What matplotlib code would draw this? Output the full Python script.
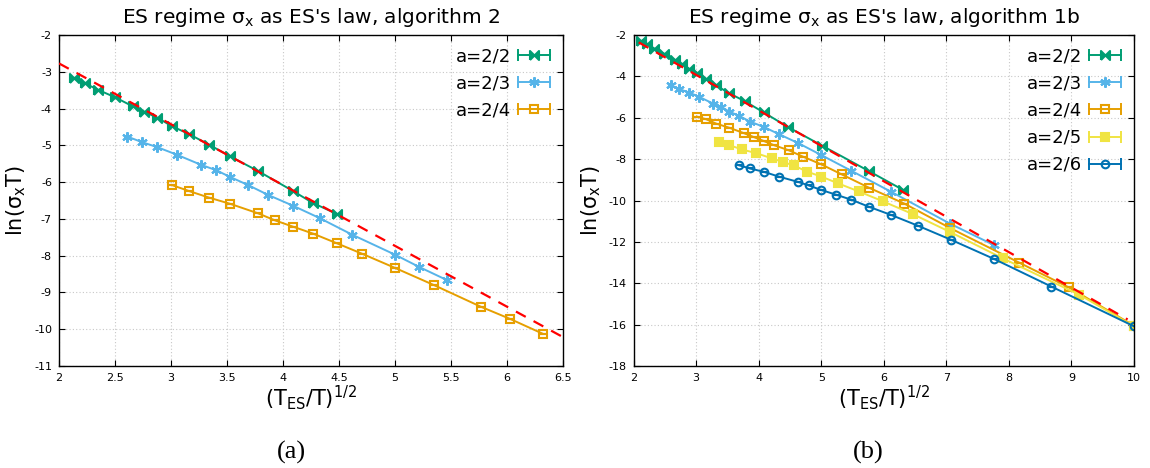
import numpy as np
import matplotlib
matplotlib.use("Agg")
import matplotlib.pyplot as plt
from matplotlib.lines import Line2D
from matplotlib.legend_handler import HandlerLine2D

plt.rcParams['font.family'] = ['DejaVu Sans']
plt.rcParams['axes.unicode_minus'] = False

# ---------------- panel (a): algorithm 2 ----------------
a_x_22 = [2.13, 2.23, 2.35, 2.50, 2.66, 2.76, 2.88, 3.01, 3.16, 3.34, 3.53, 3.78, 4.09, 4.27, 4.48]
a_y_22 = [-3.18, -3.31, -3.49, -3.69, -3.94, -4.08, -4.25, -4.48, -4.69, -4.98, -5.30, -5.70, -6.24, -6.57, -6.86]
a_x_23 = [2.61, 2.74, 2.88, 3.05, 3.27, 3.40, 3.53, 3.69, 3.87, 4.09, 4.33, 4.62, 5.00, 5.22, 5.47]
a_y_23 = [-4.76, -4.91, -5.05, -5.25, -5.53, -5.67, -5.86, -6.08, -6.35, -6.64, -6.98, -7.43, -7.97, -8.31, -8.67]
a_x_24 = [3.01, 3.16, 3.34, 3.53, 3.78, 3.93, 4.09, 4.27, 4.48, 4.71, 5.00, 5.35, 5.77, 6.03, 6.32]
a_y_24 = [-6.08, -6.24, -6.42, -6.59, -6.85, -7.04, -7.21, -7.40, -7.66, -7.95, -8.33, -8.80, -9.39, -9.72, -10.12]
a_fit_x = [2.0, 6.5]
a_fit_y = [-2.77, -10.21]

# ---------------- panel (b): algorithm 1b ----------------
b_x_22 = [2.12, 2.22, 2.33, 2.48, 2.66, 2.77, 2.88, 3.01, 3.15, 3.32, 3.52, 3.78, 4.08, 4.47, 5.01, 5.77, 6.31]
b_y_22 = [-2.28, -2.44, -2.65, -2.89, -3.21, -3.41, -3.62, -3.83, -4.10, -4.43, -4.80, -5.20, -5.74, -6.45, -7.34, -8.59, -9.49]
b_x_23 = [2.59, 2.73, 2.89, 3.05, 3.27, 3.40, 3.53, 3.69, 3.86, 4.08, 4.33, 4.63, 5.00, 5.48, 6.12, 7.06, 7.76]
b_y_23 = [-4.42, -4.61, -4.78, -4.99, -5.31, -5.47, -5.70, -5.91, -6.18, -6.44, -6.80, -7.22, -7.80, -8.56, -9.58, -11.12, -12.15]
b_x_24 = [3.01, 3.16, 3.32, 3.53, 3.77, 3.92, 4.08, 4.25, 4.48, 4.71, 5.00, 5.33, 5.77, 6.33, 7.06, 8.17, 8.96, 10.0]
b_y_24 = [-5.94, -6.07, -6.28, -6.48, -6.75, -6.93, -7.12, -7.33, -7.57, -7.88, -8.25, -8.74, -9.39, -10.15, -11.33, -13.01, -14.20, -16.05]
b_x_25 = [3.37, 3.53, 3.73, 3.95, 4.21, 4.39, 4.56, 4.77, 5.00, 5.27, 5.60, 5.98, 6.46, 7.06, 7.90, 9.13, 10.0]
b_y_25 = [-7.16, -7.32, -7.53, -7.70, -7.96, -8.14, -8.30, -8.60, -8.84, -9.17, -9.56, -10.03, -10.65, -11.52, -12.79, -14.56, -16.08]
b_x_26 = [3.69, 3.86, 4.08, 4.33, 4.63, 4.80, 5.00, 5.23, 5.48, 5.77, 6.12, 6.54, 7.07, 7.76, 8.68, 10.0]
b_y_26 = [-8.30, -8.45, -8.61, -8.85, -9.10, -9.27, -9.49, -9.71, -9.96, -10.31, -10.70, -11.21, -11.89, -12.82, -14.16, -16.08]
b_fit_x = [2.08, 9.9]
b_fit_y = [-2.35, -15.75]

labels = ["a=2/2", "a=2/3", "a=2/4", "a=2/5", "a=2/6"]
colors = ["#009e73", "#56b4e9", "#e69f00", "#f0e442", "#0072b2"]
bowtie = [(-1, -1), (1, 1), (1, -1), (-1, 1), (-1, -1)]
markers = [bowtie, (6, 2, 0), 's', 's', 'o']
msizes = [6.5, 7.5, 6, 5.5, 5.5]
hollow = [False, False, True, False, True]


def draw_series(ax, xs, ys, i):
    kw = dict(color=colors[i], marker=markers[i], ms=msizes[i], mew=1.5, lw=1.4)
    if hollow[i]:
        kw['mfc'] = 'none'
    ax.errorbar(xs, ys, yerr=0, capsize=2.5, elinewidth=1.2, capthick=1.2, **kw)
    # gnuplot-like key entry: horizontal bar with end caps and the point in the middle
    caps = Line2D([], [], color=colors[i], lw=1.4, marker='|', ms=8, mew=1.4)
    mark = Line2D([], [], ls='none', **{k: v for k, v in kw.items() if k != 'lw'})
    return (caps, mark)


def add_legend(ax, handles):
    hmap = {}
    for caps, mark in handles:
        hmap[caps] = HandlerLine2D(numpoints=2, marker_pad=0)
        hmap[mark] = HandlerLine2D(numpoints=1)
    ax.legend(handles=handles, labels=labels[:len(handles)], loc='upper right', frameon=False,
              markerfirst=False, fontsize=13, handlelength=1.8, handletextpad=0.35,
              labelspacing=0.5, borderaxespad=0.4, borderpad=0.3, handler_map=hmap)


def style_axes(ax, xticks, xlabels, yticks):
    ax.set_xticks(xticks)
    ax.set_xticklabels(xlabels)
    ax.set_yticks(yticks)
    ax.set_yticklabels([str(t) for t in yticks])
    ax.tick_params(direction='in', top=True, right=True, labelsize=8, length=4, width=0.8, pad=5)
    ax.grid(True, color='#c8c8c8', linestyle=(0, (1, 2)), linewidth=0.8)
    for s in ax.spines.values():
        s.set_linewidth(1.0)
    ax.set_xlabel(r'(T$_{\mathrm{ES}}$/T)$^{1/2}$', fontsize=15, labelpad=0)
    ax.set_ylabel(r'ln($\mathrm{\sigma_x}$T)', fontsize=15, labelpad=4)


fig = plt.figure(figsize=(11.5, 4.68), dpi=100)
ax1 = fig.add_axes([0.0513, 0.218, 0.438, 0.707])
ax2 = fig.add_axes([0.551, 0.218, 0.435, 0.707])

# panel (a)
h = [draw_series(ax1, a_x_22, a_y_22, 0),
     draw_series(ax1, a_x_23, a_y_23, 1),
     draw_series(ax1, a_x_24, a_y_24, 2)]
ax1.plot(a_fit_x, a_fit_y, color='#ff0000', ls=(0, (5, 4)), lw=1.6, zorder=5)
ax1.set_xlim(2, 6.5)
ax1.set_ylim(-11, -2)
xt = [2, 2.5, 3, 3.5, 4, 4.5, 5, 5.5, 6, 6.5]
style_axes(ax1, xt, [f"{t:g}" for t in xt], list(range(-11, -1)))
ax1.set_title(r"ES regime $\mathrm{\sigma_x}$ as ES's law, algorithm 2", fontsize=14.5, pad=9)
add_legend(ax1, h)

# panel (b)
h = [draw_series(ax2, b_x_22, b_y_22, 0),
     draw_series(ax2, b_x_23, b_y_23, 1),
     draw_series(ax2, b_x_24, b_y_24, 2),
     draw_series(ax2, b_x_25, b_y_25, 3),
     draw_series(ax2, b_x_26, b_y_26, 4)]
ax2.plot(b_fit_x, b_fit_y, color='#ff0000', ls=(0, (5, 4)), lw=1.6, zorder=5)
ax2.set_xlim(2, 10)
ax2.set_ylim(-18, -2)
xt = list(range(2, 11))
style_axes(ax2, xt, [str(t) for t in xt], list(range(-18, -1, 2)))
ax2.set_title(r"ES regime $\mathrm{\sigma_x}$ as ES's law, algorithm 1b", fontsize=14.5, pad=9)
add_legend(ax2, h)

fig.text(0.253, 0.02, "(a)", ha='center', fontsize=19, family='Liberation Serif')
fig.text(0.755, 0.02, "(b)", ha='center', fontsize=19, family='Liberation Serif')

fig.savefig("out.png", dpi=100)
